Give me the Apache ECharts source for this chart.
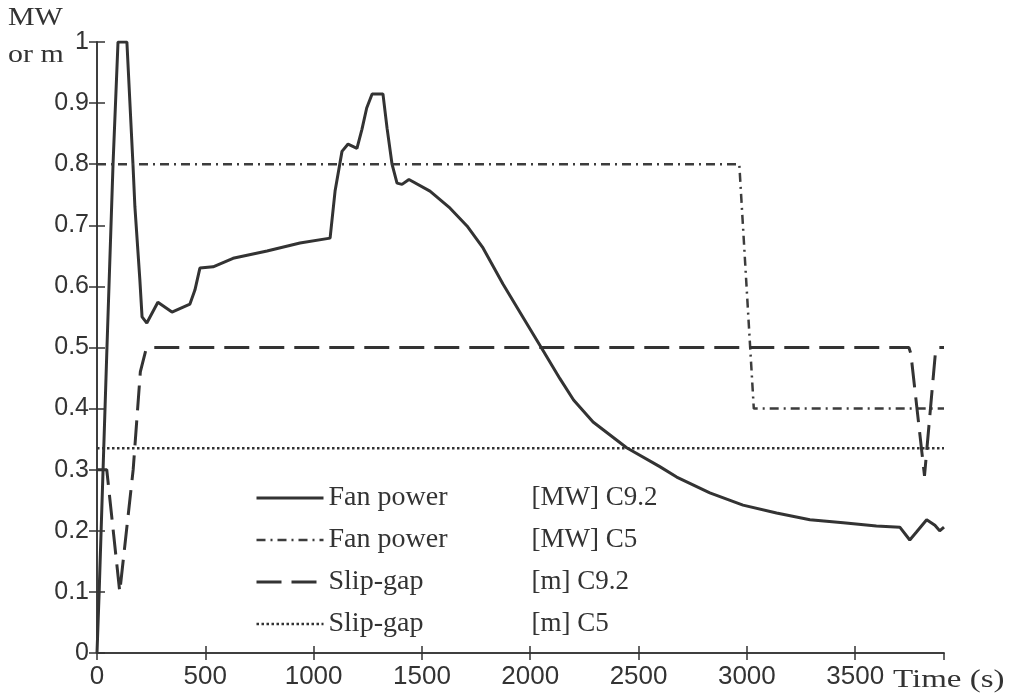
<!DOCTYPE html>
<html>
<head>
<meta charset="utf-8">
<script src="https://cdn.jsdelivr.net/npm/echarts@6/dist/echarts.min.js"></script>
<style>
  html, body { margin: 0; padding: 0; background: #fff; }
  #chart { width: 1016px; height: 697px; }
</style>
</head>
<body>
<div id="chart"></div>
<script>
// Fan power C9.2 [MW] (solid)
const fanC92Time  = [0, 10, 28, 46, 74, 97, 138, 166, 175, 198, 208, 230, 281, 346, 429, 452, 475, 536, 628, 785, 937, 1076, 1099, 1131, 1159, 1200, 1223, 1245, 1270, 1320, 1339, 1362, 1385, 1408, 1440, 1537, 1630, 1708, 1782, 1874, 1967, 2059, 2137, 2200, 2290, 2445, 2598, 2676, 2829, 2982, 3137, 3291, 3445, 3598, 3706, 3752, 3783, 3830, 3868, 3890, 3910];
const fanC92Value = [0, 0.1, 0.3, 0.5, 0.8, 1, 1, 0.8, 0.73, 0.61, 0.55, 0.54, 0.574, 0.558, 0.571, 0.594, 0.63, 0.632, 0.646, 0.658, 0.671, 0.679, 0.756, 0.821, 0.833, 0.826, 0.857, 0.892, 0.915, 0.915, 0.859, 0.8, 0.769, 0.767, 0.775, 0.756, 0.728, 0.699, 0.663, 0.604, 0.549, 0.495, 0.449, 0.414, 0.378, 0.336, 0.305, 0.288, 0.262, 0.242, 0.229, 0.218, 0.213, 0.208, 0.206, 0.185, 0.198, 0.218, 0.209, 0.2, 0.206];

// Fan power C5 [MW] (dash-dot)
const fanC5Time  = [0, 2965, 3032, 3910];
const fanC5Value = [0.8, 0.8, 0.4, 0.4];

// Slip-gap C9.2 [m] (dashed)
const gapC92Time  = [0, 45, 105, 112, 167, 200, 225, 250, 3748, 3757, 3820, 3828, 3870, 3880, 3910];
const gapC92Value = [0.3, 0.3, 0.1, 0.1, 0.3, 0.46, 0.495, 0.5, 0.5, 0.49, 0.29, 0.29, 0.49, 0.5, 0.5];

// Slip-gap C5 [m] (dotted)
const gapC5Time  = [0, 3910];
const gapC5Value = [0.335, 0.335];

const seriesNames = ['Fan power|[MW] C9.2', 'Fan power|[MW] C5', 'Slip-gap|[m] C9.2', 'Slip-gap|[m] C5'];

function pairs(t, v) {
    return t.map((x, i) => [x, v[i]]);
}

const ink = '#333';
const sansFont = '"Liberation Sans", Arial, sans-serif';
const serifFont = '"Liberation Serif", "Times New Roman", serif';

const dom = document.getElementById('chart');
const myChart = echarts.init(dom, null, { renderer: 'canvas' });

const option = {
    animation: false,
    backgroundColor: '#fff',
    grid: { left: 97, right: 72, top: 42, bottom: 44 },
    legend: {
        orient: 'vertical',
        left: 255,
        top: 483,
        padding: 0,
        itemWidth: 67,
        itemHeight: 14,
        itemGap: 12,
        itemStyle: { opacity: 0 },
        lineStyle: { width: 'inherit' },
        textStyle: {
            color: ink,
            fontFamily: serifFont,
            fontSize: 27,
            lineHeight: 30,
            rich: {
                a: { width: 203, fontFamily: serifFont, fontSize: 28, color: ink },
                b: { fontFamily: serifFont, fontSize: 27, color: ink }
            }
        },
        formatter: function (name) {
            const p = name.split('|');
            return '{a|' + p[0] + '}{b|' + p[1] + '}';
        },
        data: seriesNames
    },
    xAxis: [
        {
            type: 'value', min: 0, max: 3910, interval: 500,
            axisLine: { lineStyle: { color: ink, width: 1.5 } },
            axisTick: { inside: true, length: 7, lineStyle: { color: ink, width: 1.5 } },
            axisLabel: {
                color: ink, fontFamily: sansFont, fontSize: 26, margin: 11, showMaxLabel: false,
                formatter: v => String(v)
            },
            splitLine: { show: false }
        },
        {
            type: 'value', position: 'top', min: 0, max: 3910, interval: 500,
            axisLine: { show: true, lineStyle: { color: ink, width: 1.5 } },
            axisTick: { inside: true, length: 7, lineStyle: { color: ink, width: 1.5 } },
            axisLabel: { show: false },
            splitLine: { show: false }
        }
    ],
    yAxis: [
        {
            type: 'value', min: 0, max: 1, interval: 0.1,
            axisLine: { show: true, lineStyle: { color: ink, width: 1.5 } },
            axisTick: { show: true, inside: true, length: 8, lineStyle: { color: ink, width: 1.5 } },
            axisLabel: { color: ink, fontFamily: sansFont, fontSize: 25, margin: 8 },
            splitLine: { show: false }
        },
        {
            type: 'value', position: 'right', min: 0, max: 1, interval: 0.1,
            axisLine: { show: true, lineStyle: { color: ink, width: 1.5 } },
            axisTick: { show: true, inside: true, length: 8, lineStyle: { color: ink, width: 1.5 } },
            axisLabel: { show: false },
            splitLine: { show: false }
        }
    ],
    graphic: [
        { type: 'text', left: 8, top: 5, scaleX: 1.15, style: { text: 'MW', font: '26px ' + serifFont, fill: ink } },
        { type: 'text', left: 8, top: 42, scaleX: 1.15, style: { text: 'or m', font: '26px ' + serifFont, fill: ink } },
        { type: 'text', left: 893, top: 667, scaleX: 1.27, style: { text: 'Time (s)', font: '26px ' + serifFont, fill: ink } }
    ],
    series: [
        {
            name: seriesNames[0], type: 'line', symbol: 'none',
            data: pairs(fanC92Time, fanC92Value),
            lineStyle: { color: ink, width: 3, type: 'solid' },
            itemStyle: { color: ink }
        },
        {
            name: seriesNames[1], type: 'line', symbol: 'none',
            data: pairs(fanC5Time, fanC5Value),
            lineStyle: { color: '#3c3c3c', width: 2.5, type: [9, 5, 2, 5] },
            itemStyle: { color: '#3c3c3c' }
        },
        {
            name: seriesNames[2], type: 'line', symbol: 'none',
            data: pairs(gapC92Time, gapC92Value),
            lineStyle: { color: ink, width: 3, type: [25, 10] },
            itemStyle: { color: ink }
        },
        {
            name: seriesNames[3], type: 'line', symbol: 'none',
            data: pairs(gapC5Time, gapC5Value),
            lineStyle: { color: ink, width: 2.5, type: [2.5, 2.5] },
            itemStyle: { color: ink }
        }
    ]
};

myChart.setOption(option);
window.addEventListener('resize', myChart.resize);
</script>
</body>
</html>
